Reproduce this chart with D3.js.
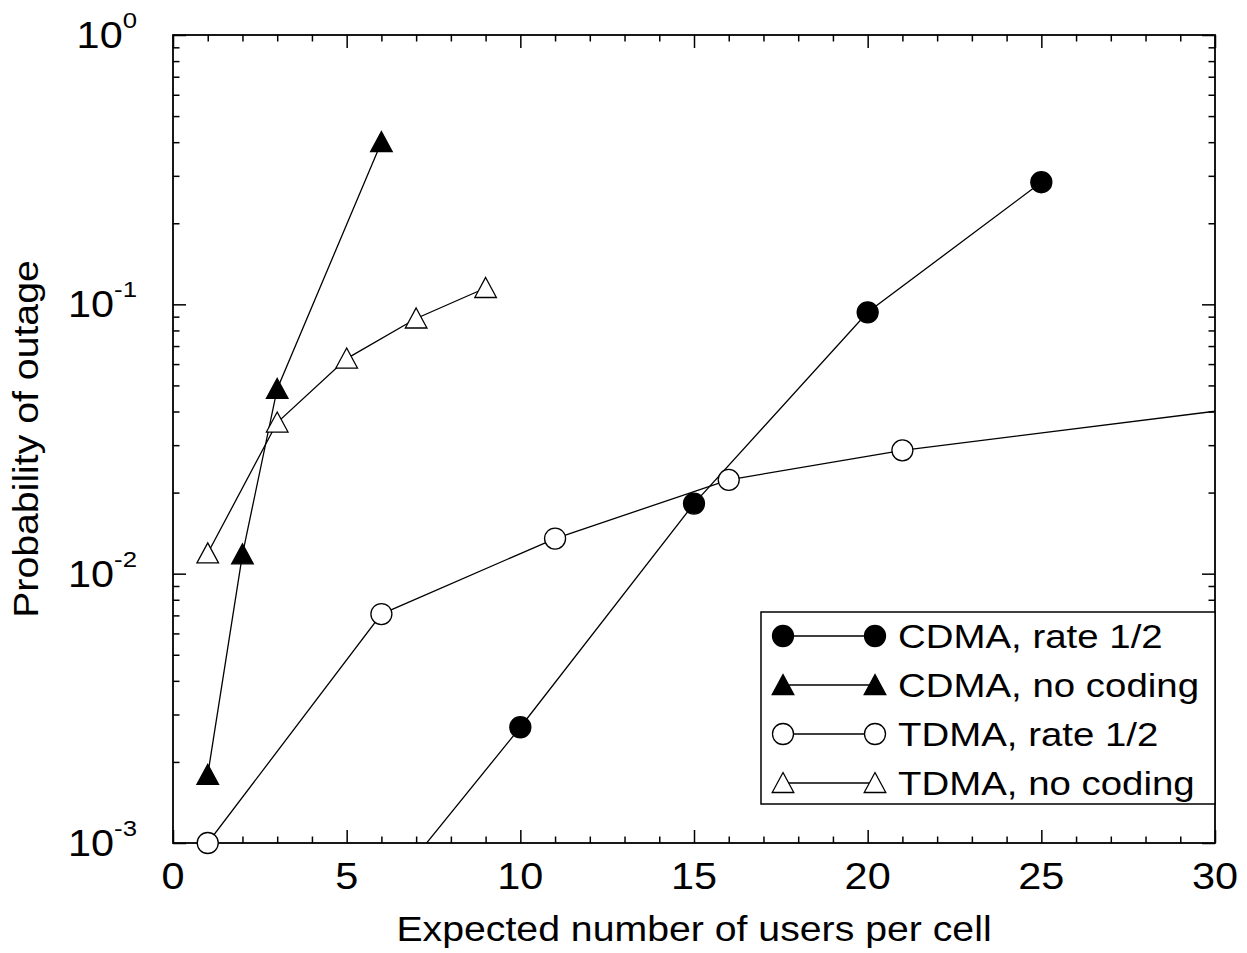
<!DOCTYPE html>
<html>
<head>
<meta charset="utf-8">
<script src="https://cdn.jsdelivr.net/npm/d3@7"></script>
<style>
  html, body { margin: 0; padding: 0; background: #fff; }
  text { font-family: "Liberation Sans", Arial, Helvetica, sans-serif; fill: #000; }
</style>
</head>
<body>
<svg id="chart"></svg>
<script>
// data
const usersCdmaRate12 = [5, 10, 15, 20, 25];
const cdmaRate12 = [0.00043, 0.00269, 0.0182, 0.0934, 0.284];

const usersCdmaNoCoding = [1, 2, 3, 6];
const cdmaNoCoding = [0.00179, 0.0118, 0.0485, 0.40];

const usersTdmaRate12 = [1, 6, 11, 16, 21, 31];
const tdmaRate12 = [0.001, 0.00708, 0.0135, 0.0223, 0.0287, 0.0416];

const usersTdmaNoCoding = [1, 3, 5, 7, 9];
const tdmaNoCoding = [0.0119, 0.0364, 0.0629, 0.0886, 0.115];

const seriesNames = ['CDMA, rate 1/2', 'CDMA, no coding', 'TDMA, rate 1/2', 'TDMA, no coding'];

const xTickLabels = [0, 5, 10, 15, 20, 25, 30];
const yTickExponents = [0, -1, -2, -3];

const series = [
    { name: seriesNames[0], xs: usersCdmaRate12, ys: cdmaRate12, shape: 'circle', fill: '#000' },
    { name: seriesNames[1], xs: usersCdmaNoCoding, ys: cdmaNoCoding, shape: 'triangle', fill: '#000' },
    { name: seriesNames[2], xs: usersTdmaRate12, ys: tdmaRate12, shape: 'circle', fill: '#fff' },
    { name: seriesNames[3], xs: usersTdmaNoCoding, ys: tdmaNoCoding, shape: 'triangle', fill: '#fff' }
];

const width = 1247, height = 953;
const margin = { top: 35, right: 32, bottom: 110, left: 173 };
const innerW = width - margin.left - margin.right;
const innerH = height - margin.top - margin.bottom;
const sx = 1.12; // text in the picture is a bit wide

const svg = d3.select('#chart').attr('width', width).attr('height', height);
const g = svg.append('g').attr('transform', `translate(${margin.left},${margin.top})`);

const x = d3.scaleLinear().domain([0, 30]).range([0, innerW]);
const y = d3.scaleLog().domain([1e-3, 1]).range([innerH, 0]);

g.append('clipPath').attr('id', 'plotClip')
    .append('rect').attr('width', innerW).attr('height', innerH);

// ticks, pointing inward on all four sides
const xMinor = d3.range(0, 31).filter(v => v % 5 !== 0);
const yMinor = [];
yTickExponents.slice(0, 3).forEach(e => {
    for (let m = 2; m <= 9; m++) yMinor.push(m * Math.pow(10, e - 1));
});
const yMajor = yTickExponents.map(e => Math.pow(10, e));

function tickAxis(axisFn, scale, values, len, transform) {
    const a = g.append('g')
        .attr('transform', transform)
        .call(axisFn(scale).tickValues(values).tickSize(-len).tickFormat(''));
    a.select('.domain').remove();
    a.selectAll('line').attr('stroke', '#000').attr('stroke-width', 1.5);
}
tickAxis(d3.axisBottom, x, xTickLabels, 13, `translate(0,${innerH})`);
tickAxis(d3.axisBottom, x, xMinor, 6.5, `translate(0,${innerH})`);
tickAxis(d3.axisTop, x, xTickLabels, 13, 'translate(0,0)');
tickAxis(d3.axisTop, x, xMinor, 6.5, 'translate(0,0)');
tickAxis(d3.axisLeft, y, yMajor, 13, 'translate(0,0)');
tickAxis(d3.axisLeft, y, yMinor, 6.5, 'translate(0,0)');
tickAxis(d3.axisRight, y, yMajor, 13, `translate(${innerW},0)`);
tickAxis(d3.axisRight, y, yMinor, 6.5, `translate(${innerW},0)`);

g.append('rect')
    .attr('width', innerW).attr('height', innerH)
    .attr('fill', 'none').attr('stroke', '#000').attr('stroke-width', 1.8);

// tick labels
g.selectAll('.xlab').data(xTickLabels).join('text')
    .attr('class', 'xlab')
    .attr('text-anchor', 'middle')
    .attr('font-size', 37)
    .attr('transform', d => `translate(${x(d)},${innerH + 46}) scale(${sx},1)`)
    .text(d => d);

const yLab = g.selectAll('.ylab').data(yTickExponents).join('text')
    .attr('class', 'ylab')
    .attr('text-anchor', 'end')
    .attr('font-size', 37)
    .attr('transform', d => `translate(-36,${y(Math.pow(10, d)) + 13}) scale(${sx},1)`);
yLab.append('tspan').text('10');
yLab.append('tspan').attr('font-size', 23).attr('dy', -20).text(d => d);

// axis titles
svg.append('text')
    .attr('text-anchor', 'middle')
    .attr('font-size', 36)
    .attr('transform', `translate(${margin.left + innerW / 2},${941}) scale(1.09,1)`)
    .text('Expected number of users per cell');

svg.append('text')
    .attr('text-anchor', 'middle')
    .attr('font-size', 36)
    .attr('transform', `translate(38,${margin.top + innerH / 2}) rotate(-90) scale(1.09,1)`)
    .text('Probability of outage');

// lines
const line = d3.line().x(d => x(d[0])).y(d => y(d[1]));
const plot = g.append('g').attr('clip-path', 'url(#plotClip)');
series.forEach(s => {
    plot.append('path')
        .datum(s.xs.map((v, i) => [v, s.ys[i]]))
        .attr('d', line)
        .attr('fill', 'none')
        .attr('stroke', '#000')
        .attr('stroke-width', 1.3);
});

// markers
const triPath = 'M0,-10.5L10.8,9.5L-10.8,9.5Z';
function drawMarker(sel, shape, fill, cx, cy) {
    if (shape === 'circle') {
        sel.append('circle').attr('cx', cx).attr('cy', cy).attr('r', 10.5)
            .attr('fill', fill).attr('stroke', '#000').attr('stroke-width', 1.3);
    } else {
        sel.append('path').attr('d', triPath)
            .attr('transform', `translate(${cx},${cy})`)
            .attr('fill', fill).attr('stroke', '#000').attr('stroke-width', 1.3);
    }
}
const markers = g.append('g');
series.forEach(s => {
    s.xs.forEach((v, i) => {
        const val = s.ys[i];
        if (v < 0 || v > 30 || val < 1e-3 || val > 1) return;
        drawMarker(markers, s.shape, s.fill, x(v), y(val));
    });
});

// legend
const legend = svg.append('g').attr('transform', 'translate(761,612)');
legend.append('rect')
    .attr('width', 1215 - 761).attr('height', 192)
    .attr('fill', '#fff').attr('stroke', '#000').attr('stroke-width', 1.5);
series.forEach((s, i) => {
    const ry = 24 + i * 49;
    legend.append('line')
        .attr('x1', 22).attr('x2', 114).attr('y1', ry).attr('y2', ry)
        .attr('stroke', '#000').attr('stroke-width', 1.3);
    drawMarker(legend, s.shape, s.fill, 22, ry);
    drawMarker(legend, s.shape, s.fill, 114, ry);
    legend.append('text')
        .attr('font-size', 34)
        .attr('transform', `translate(137,${ry + 12}) scale(1.13,1)`)
        .text(s.name);
});
</script>
</body>
</html>
